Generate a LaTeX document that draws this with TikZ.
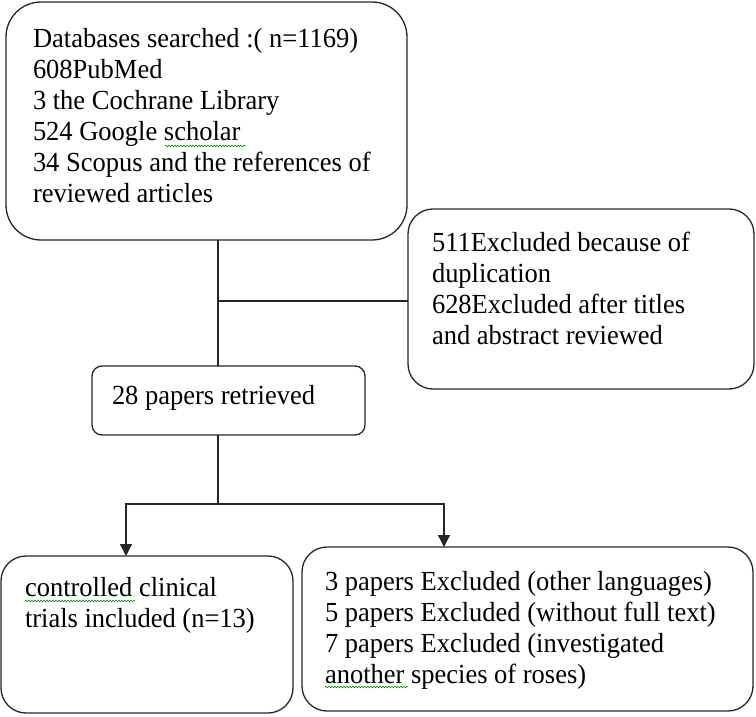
\documentclass[tikz,border=0pt]{standalone}
\usepackage{fontspec}
\setmainfont{Liberation Serif}[FakeStretch=0.96]
\usetikzlibrary{arrows.meta,decorations.pathmorphing}
\newcommand\flowfont{\fontsize{27.6}{31}\selectfont}
\begin{document}
\begin{tikzpicture}[x=1pt,y=-1pt,
  box/.style={draw=black!85,line width=1.3pt,anchor=north west,inner sep=0pt,outer sep=0pt},
  txt/.style={anchor=north west,inner sep=0pt,outer sep=0pt,align=left,font=\flowfont,text=black},
  conn/.style={draw=black!85,line width=1.3pt},
  arr/.style={conn,-{Triangle[length=12pt,width=12pt]}},
  squig/.style={draw=green!55!black,line width=0.6pt,decorate,decoration={snake,segment length=3pt,amplitude=0.8pt}}]
\useasboundingbox (0,0) rectangle (756,717);
% boxes
\node[box,rounded corners=35pt,minimum width=401pt,minimum height=238pt] (b1) at (6,2) {};
\node[box,rounded corners=25pt,minimum width=346pt,minimum height=180pt] (b2) at (408,209) {};
\node[box,rounded corners=10pt,minimum width=273pt,minimum height=69pt] (b3) at (92,366) {};
\node[box,rounded corners=25pt,minimum width=292pt,minimum height=157pt] (b4) at (1,556) {};
\node[box,rounded corners=25pt,minimum width=451pt,minimum height=164pt] (b5) at (302,547) {};
% texts
\node[txt] (t1) at (33,25.3) {\strut Databases searched :( n=1169)\\608PubMed\\3 the Cochrane Library\\524 Google scholar\\34 Scopus and the references of\\reviewed articles};
\node[txt] (t2) at (432,229.3) {\strut 511Excluded because of\\duplication\\628Excluded after titles\\and abstract reviewed};
\node[txt] (t3) at (112,382.3) {\strut 28 papers retrieved};
\node[txt] (t4) at (25,574.3) {\strut controlled clinical\\trials included (n=13)};
\node[txt] (t5) at (325,568.3) {\strut 3 papers Excluded (other languages)\\5 papers Excluded (without full text)\\7 papers Excluded (investigated\\another species of roses)};
% spell-check marks
\draw[squig] (165,146) -- (246,146);
\draw[squig] (25,601) -- (135,601);
\draw[squig] (325,687) -- (408,687);
% connectors
\coordinate (j1) at (218,301);
\coordinate (j2) at (218,504);
\coordinate (a4) at (126,504);
\coordinate (a5) at (444,504);
\draw[conn] (b1.south -| j1) -- (b3.north -| j1);
\draw[conn] (j1) -- (j1 -| b2.west);
\draw[conn] (b3.south -| j2) -- (j2);
\draw[arr] (j2) -| (a4 |- b4.north);
\draw[arr] (j2) -| (a5 |- b5.north);
\end{tikzpicture}
\end{document}
